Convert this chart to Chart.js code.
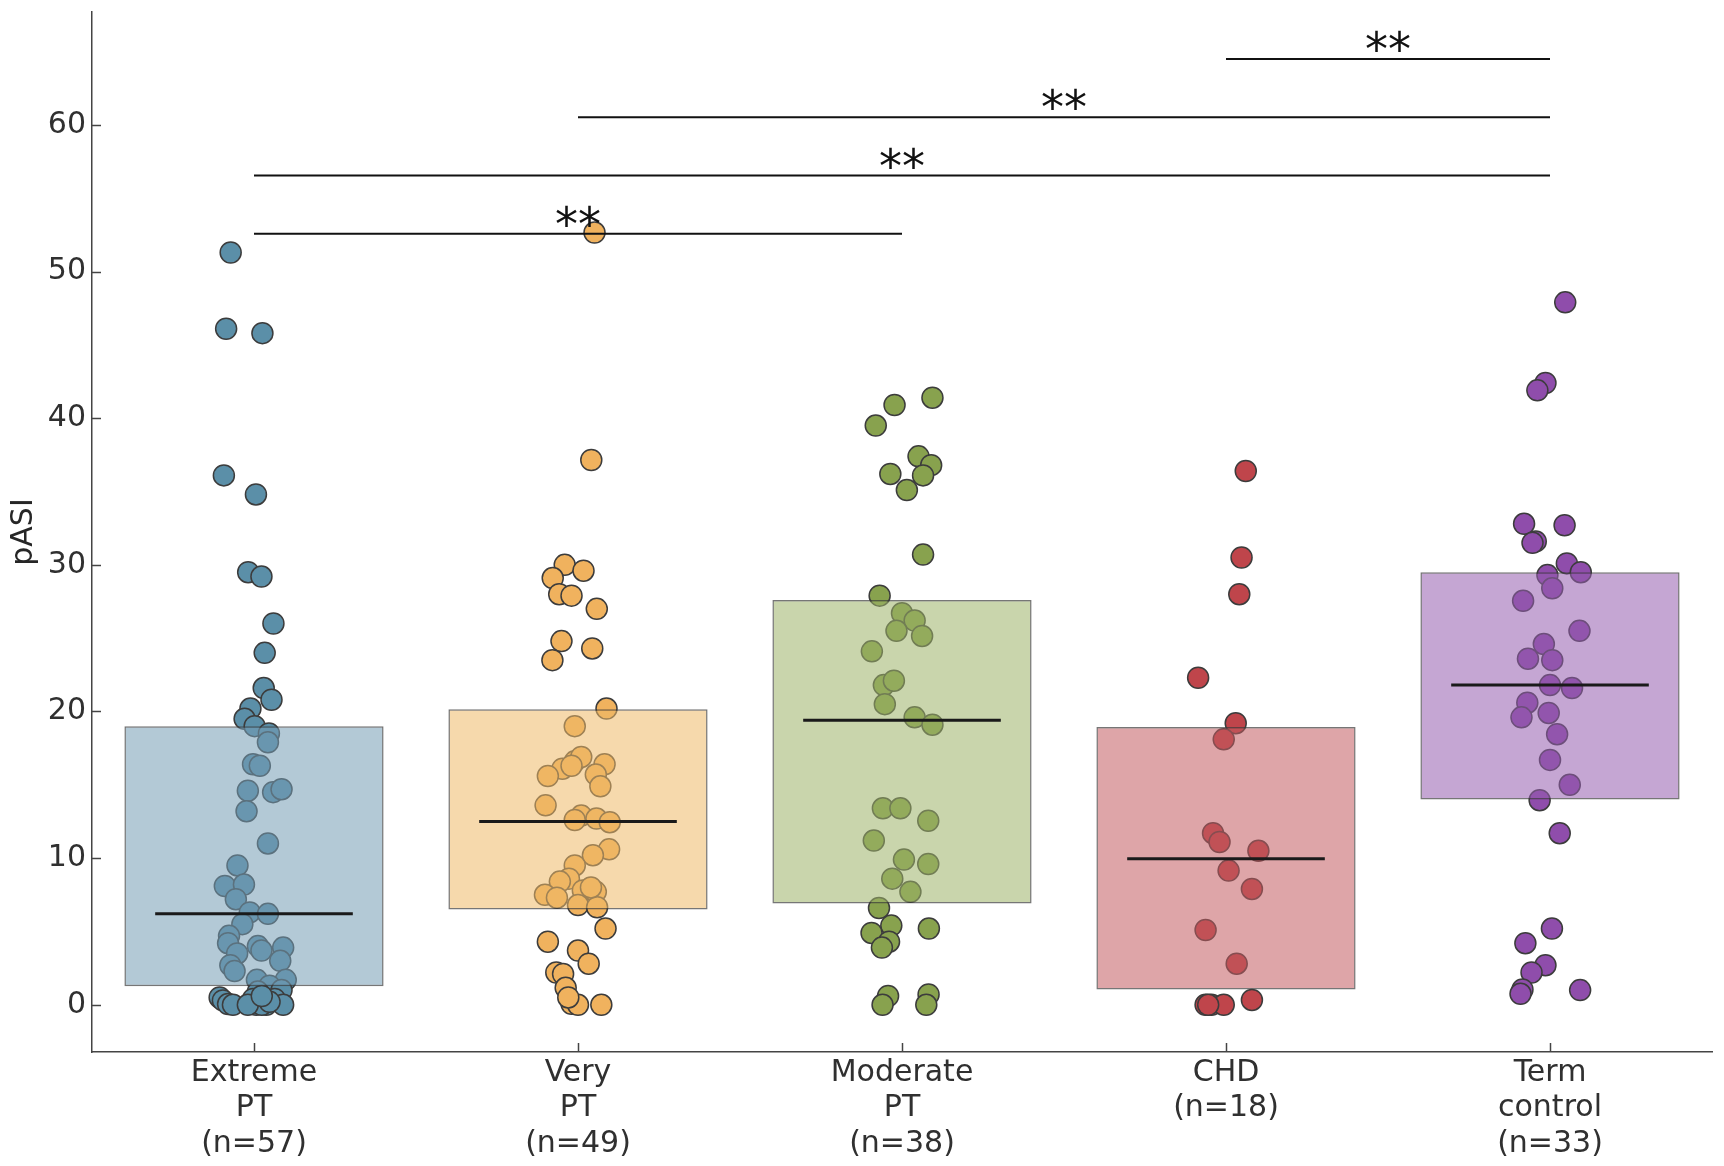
<!DOCTYPE html>
<html><head><meta charset="utf-8">
<script src="https://cdn.jsdelivr.net/npm/chart.js@4/dist/chart.umd.min.js"></script>
<style>html,body{margin:0;padding:0;background:#fff}</style>
</head><body>
<canvas id="c" width="1724" height="1166"></canvas>
<script>
// ---- data ----
const categories = [['Extreme','PT','(n=57)'],['Very','PT','(n=49)'],['Moderate','PT','(n=38)'],['CHD','(n=18)'],['Term','control','(n=33)']];

const extremeValues = [51.3,46.1,45.8,36.1,34.8,29.5,29.2,26.0,24.0,21.6,20.8,20.2,19.5,19.0,18.5,17.9,16.4,16.3,14.6,14.5,14.7,13.2,11.0,9.5,8.1,8.2,7.2,6.3,6.2,5.5,4.7,4.2,3.5,4.0,3.7,3.9,3.0,2.7,2.3,1.7,1.7,1.3,1.0,0.9,0.5,0.3,0.05,0,0.4,0,0,0.4,0,0,0.2,0,0.6];
const extremeJitter = [-0.072,-0.086,0.026,-0.093,0.006,-0.018,0.023,0.060,0.033,0.030,0.054,-0.011,-0.029,0.002,0.046,0.043,-0.003,0.018,-0.019,0.059,0.085,-0.023,0.043,-0.051,-0.090,-0.031,-0.056,-0.013,0.043,-0.036,-0.077,-0.080,-0.052,0.012,0.023,0.090,0.081,-0.073,-0.060,0.009,0.098,0.048,0.085,0.012,-0.106,-0.096,-0.080,-0.065,-0.003,0.007,0.038,0.064,0.090,0.024,0.048,-0.019,0.024];

const veryValues = [52.66,37.15,30.0,29.1,29.6,28.0,27.9,27.0,24.8,24.3,23.5,20.2,19.0,16.1,16.6,16.9,16.4,15.7,14.9,15.6,13.6,12.9,12.7,12.45,10.6,10.2,9.5,8.6,8.4,7.5,7.3,7.8,7.7,6.8,6.65,5.2,4.3,3.7,2.8,2.2,2.1,1.16,0.07,0,0,0.5,8.0,12.6,16.3];
const veryJitter = [0.051,0.041,-0.041,-0.078,0.017,-0.058,-0.020,0.058,-0.051,0.044,-0.079,0.088,-0.010,-0.048,-0.010,0.010,0.082,0.055,0.069,-0.093,-0.100,0.010,0.057,0.098,0.096,0.046,-0.010,-0.028,-0.056,-0.102,-0.065,0.015,0.055,0,0.059,0.085,-0.093,0,0.033,-0.067,-0.046,-0.038,-0.020,0,0.072,-0.030,0.040,-0.010,-0.020];

const moderateValues = [41.4,40.9,39.5,37.4,36.8,36.2,36.1,35.1,30.7,27.9,26.7,26.2,25.5,25.15,24.1,21.8,22.1,20.5,19.6,19.1,13.4,13.4,12.55,11.2,9.9,9.6,8.6,7.7,6.6,5.4,4.9,5.2,4.3,3.9,0.6,0,0.7,0];
const moderateJitter = [0.094,-0.023,-0.081,0.051,0.090,-0.036,0.065,0.015,0.065,-0.069,0,0.039,-0.017,0.062,-0.093,-0.056,-0.025,-0.053,0.039,0.094,-0.059,-0.005,0.081,-0.087,0.006,0.081,-0.030,0.026,-0.071,-0.033,-0.094,0.083,-0.040,-0.062,-0.043,-0.060,0.082,0.075];

const chdValues = [36.4,30.5,28.0,22.3,19.2,18.1,11.7,11.1,10.5,9.15,7.9,5.1,2.8,0.33,0,0,0,0];
const chdJitter = [0.061,0.048,0.041,-0.086,0.030,-0.007,-0.040,-0.020,0.100,0.008,0.080,-0.063,0.033,0.080,-0.063,-0.045,-0.007,-0.055];

const termValues = [47.9,42.4,41.9,32.8,32.7,31.6,31.5,30.1,29.5,29.3,28.4,27.55,25.5,24.6,23.6,23.5,21.8,21.6,20.6,19.6,19.9,18.45,16.7,15.0,13.95,11.7,5.2,4.2,2.7,2.2,1.05,0.75,1.0];
const termJitter = [0.047,-0.014,-0.039,-0.080,0.045,-0.044,-0.054,0.052,0.095,-0.008,0.007,-0.083,0.091,-0.019,-0.068,0.007,0,0.068,-0.070,-0.088,-0.004,0.022,0,0.061,-0.032,0.030,0.006,-0.076,-0.014,-0.057,-0.085,-0.091,0.093];

const boxLower = [1.27, 6.5, 6.9, 1.05, 14.0];
const boxUpper = [19.0, 20.15, 27.6, 18.95, 29.5];
const medians  = [6.2, 12.5, 19.4, 9.96, 21.8];

const sigFrom  = [0, 0, 1, 3];
const sigTo    = [2, 4, 4, 4];
const sigLevel = [52.57, 56.55, 60.52, 64.49];
const sigText  = ['**', '**', '**', '**'];

const yTicks = [0, 10, 20, 30, 40, 50, 60];

// ---- styles ----
const pointColors = ['#5b8fa8', '#f0b25e', '#88a24e', '#bf454b', '#8f4dab'];
const boxColors = ['rgba(117,157,180,0.55)', 'rgba(238,186,104,0.55)', 'rgba(157,179,104,0.55)', 'rgba(195,91,97,0.55)', 'rgba(150,93,175,0.55)'];

const groupValues = [extremeValues, veryValues, moderateValues, chdValues, termValues];
const groupJitter = [extremeJitter, veryJitter, moderateJitter, chdJitter, termJitter];

Chart.defaults.font.family = '"DejaVu Sans", sans-serif';

const datasets = [];
groupValues.forEach((vals, i) => {
  datasets.push({
    type: 'scatter',
    data: vals.map((v, k) => ({x: i + groupJitter[i][k], y: v})),
    backgroundColor: pointColors[i],
    borderColor: '#3c3c3c',
    borderWidth: 1.5,
    pointRadius: 10.5,
    pointHoverRadius: 10.5,
    order: 5
  });
});
datasets.push({
  type: 'bar',
  data: boxLower.map((lo, i) => ({x: i, y: [lo, boxUpper[i]]})),
  backgroundColor: boxColors,
  borderColor: 'rgba(60,60,60,0.7)',
  borderWidth: 1.5,
  borderSkipped: false,
  barPercentage: 0.8,
  categoryPercentage: 1,
  grouped: false,
  order: 3
});
medians.forEach((m, i) => {
  datasets.push({
    type: 'line',
    data: [{x: i - 0.305, y: m}, {x: i + 0.305, y: m}],
    borderColor: '#1a1a1a',
    borderWidth: 3,
    pointRadius: 0,
    fill: false,
    order: 2
  });
});
sigFrom.forEach((f, i) => {
  datasets.push({
    type: 'line',
    data: [{x: f, y: sigLevel[i]}, {x: sigTo[i], y: sigLevel[i]}],
    borderColor: '#111',
    borderWidth: 2,
    pointRadius: 0,
    fill: false,
    order: 1
  });
});

const decor = {
  id: 'decor',
  afterDatasetsDraw(chart) {
    const ctx = chart.ctx, xs = chart.scales.x, ys = chart.scales.y, a = chart.chartArea;
    ctx.save();
    ctx.strokeStyle = '#444';
    ctx.lineWidth = 1.5;
    ys.ticks.forEach(t => {
      const y = Math.round(ys.getPixelForValue(t.value)) + 0.5;
      ctx.beginPath(); ctx.moveTo(a.left, y); ctx.lineTo(a.left + 9, y); ctx.stroke();
    });
    xs.ticks.forEach(t => {
      const x = Math.round(xs.getPixelForValue(t.value)) + 0.5;
      ctx.beginPath(); ctx.moveTo(x, a.bottom); ctx.lineTo(x, a.bottom - 9); ctx.stroke();
    });
    ctx.fillStyle = '#111';
    ctx.font = '46px "DejaVu Sans"';
    ctx.textAlign = 'center';
    ctx.textBaseline = 'alphabetic';
    sigText.forEach((s, i) => {
      const x = xs.getPixelForValue((sigFrom[i] + sigTo[i]) / 2);
      const y = ys.getPixelForValue(sigLevel[i]);
      ctx.fillText(s, x, y + 6);
    });
    ctx.restore();
  }
};

function noPad(s) { s.paddingTop = 0; s.paddingBottom = 0; s.paddingLeft = 0; s.paddingRight = 0; }

new Chart(document.getElementById('c'), {
  type: 'scatter',
  data: {datasets},
  options: {
    responsive: false,
    animation: false,
    devicePixelRatio: 1,
    layout: {padding: {top: 8, right: 11, left: 0, bottom: 0}},
    plugins: {legend: {display: false}, tooltip: {enabled: false}},
    scales: {
      x: {
        type: 'linear',
        min: -0.5,
        max: 4.5,
        offset: false,
        afterBuildTicks: s => { s.ticks = categories.map((c, i) => ({value: i})); },
        afterFit: s => { s.height = 114; noPad(s); },
        grid: {display: false, drawTicks: false, offset: false},
        border: {display: true, color: '#444', width: 1.5},
        ticks: {
          callback: v => categories[Math.round(v)],
          font: {size: 30, lineHeight: 1.17},
          color: '#303030',
          padding: 4,
          maxRotation: 0,
          autoSkip: false
        }
      },
      y: {
        type: 'linear',
        min: -3.22,
        max: 67.7,
        afterBuildTicks: s => { s.ticks = yTicks.map(v => ({value: v})); },
        afterFit: s => { s.width = 92; noPad(s); },
        grid: {display: false, drawTicks: false},
        border: {display: true, color: '#444', width: 1.5},
        ticks: {font: {size: 30}, color: '#303030', padding: 6},
        title: {display: true, text: 'pASI', font: {size: 30, lineHeight: 1.2}, color: '#262626', padding: {top: 6, bottom: 0}}
      }
    }
  },
  plugins: [decor]
});
</script>
</body></html>
